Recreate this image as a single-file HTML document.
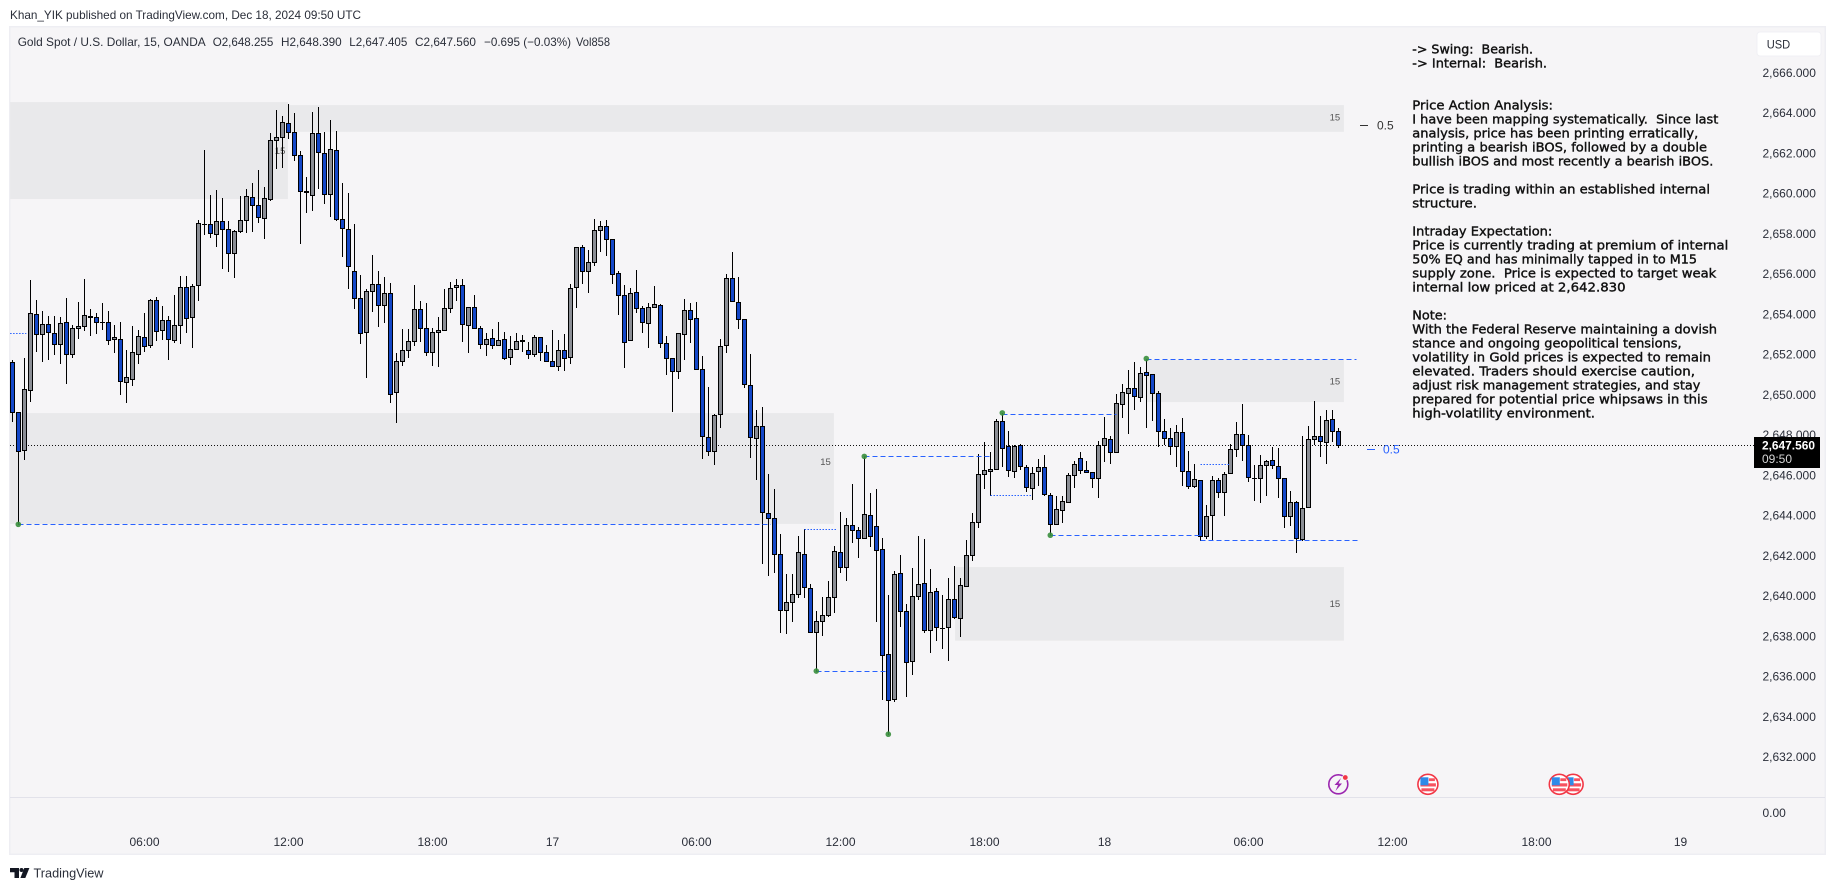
<!DOCTYPE html>
<html lang="en">
<head>
<meta charset="utf-8">
<title>Gold Spot / U.S. Dollar, 15, OANDA</title>
<style>
html,body{margin:0;padding:0;background:#fff;width:1835px;height:891px;overflow:hidden}
svg{display:block}
text{font-family:"Liberation Sans",sans-serif;white-space:pre}
.note{font-family:"DejaVu Sans","Liberation Sans",sans-serif;font-size:12px;fill:#111;stroke:#111;stroke-width:.38}
.ax{font-size:12px;fill:#2a2e39}
.lg{font-size:12px;fill:#2a2e39}
</style>
</head>
<body>
<svg id="chart" xmlns="http://www.w3.org/2000/svg" width="1835" height="891" viewBox="0 0 1835 891">
  <text x="10" y="19" class="lg" textLength="351" lengthAdjust="spacingAndGlyphs">Khan_YIK published on TradingView.com, Dec 18, 2024 09:50 UTC</text>
  <rect x="9.75" y="26.75" width="1815.5" height="827.5" fill="#f6f5f7" stroke="#eeeef3" stroke-width="1.5"/>
  <g id="zones"></g>
  <line x1="10" x2="1825" y1="797.5" y2="797.5" stroke="#e2e2ea" stroke-width="1"/>
  <g id="priceline"></g>
  <g id="candles"></g>
  <g id="levels"></g>
  <g id="yaxis"></g>
  <g id="xaxis"></g>

  <g>
    <text x="17.7" y="46" class="lg" textLength="188" lengthAdjust="spacingAndGlyphs">Gold Spot / U.S. Dollar, 15, OANDA</text>
    <text x="212.7" y="46" class="lg" textLength="60.6" lengthAdjust="spacingAndGlyphs">O2,648.255</text>
    <text x="281" y="46" class="lg" textLength="60.7" lengthAdjust="spacingAndGlyphs">H2,648.390</text>
    <text x="349.3" y="46" class="lg" textLength="58" lengthAdjust="spacingAndGlyphs">L2,647.405</text>
    <text x="415" y="46" class="lg" textLength="61" lengthAdjust="spacingAndGlyphs">C2,647.560</text>
    <text x="484" y="46" class="lg" textLength="87" lengthAdjust="spacingAndGlyphs">−0.695 (−0.03%)</text>
    <text x="576" y="46" class="lg" textLength="34" lengthAdjust="spacingAndGlyphs">Vol858</text>
  </g>

  <g>
    <text class="note" x="1412.3" y="53.5" textLength="120.7" lengthAdjust="spacingAndGlyphs">-&gt; Swing:  Bearish.</text>
    <text class="note" x="1412.3" y="67.5" textLength="134.7" lengthAdjust="spacingAndGlyphs">-&gt; Internal:  Bearish.</text>
    <text class="note" x="1412.3" y="109.5" textLength="140.7" lengthAdjust="spacingAndGlyphs">Price Action Analysis:</text>
    <text class="note" x="1412.3" y="123.5" textLength="306" lengthAdjust="spacingAndGlyphs">I have been mapping systematically.  Since last</text>
    <text class="note" x="1412.3" y="137.5" textLength="286" lengthAdjust="spacingAndGlyphs">analysis, price has been printing erratically,</text>
    <text class="note" x="1412.3" y="151.5" textLength="294.7" lengthAdjust="spacingAndGlyphs">printing a bearish iBOS, followed by a double</text>
    <text class="note" x="1412.3" y="165.5" textLength="301" lengthAdjust="spacingAndGlyphs">bullish iBOS and most recently a bearish iBOS.</text>
    <text class="note" x="1412.3" y="193.5" textLength="297.7" lengthAdjust="spacingAndGlyphs">Price is trading within an established internal</text>
    <text class="note" x="1412.3" y="207.5" textLength="64.7" lengthAdjust="spacingAndGlyphs">structure.</text>
    <text class="note" x="1412.3" y="235.5" textLength="140" lengthAdjust="spacingAndGlyphs">Intraday Expectation:</text>
    <text class="note" x="1412.3" y="249.5" textLength="316" lengthAdjust="spacingAndGlyphs">Price is currently trading at premium of internal</text>
    <text class="note" x="1412.3" y="263.5" textLength="284.7" lengthAdjust="spacingAndGlyphs">50% EQ and has minimally tapped in to M15</text>
    <text class="note" x="1412.3" y="277.5" textLength="304" lengthAdjust="spacingAndGlyphs">supply zone.  Price is expected to target weak</text>
    <text class="note" x="1412.3" y="291.5" textLength="213.3" lengthAdjust="spacingAndGlyphs">internal low priced at 2,642.830</text>
    <text class="note" x="1412.3" y="319.5" textLength="34.7" lengthAdjust="spacingAndGlyphs">Note:</text>
    <text class="note" x="1412.3" y="333.5" textLength="304.7" lengthAdjust="spacingAndGlyphs">With the Federal Reserve maintaining a dovish</text>
    <text class="note" x="1412.3" y="347.5" textLength="269.3" lengthAdjust="spacingAndGlyphs">stance and ongoing geopolitical tensions,</text>
    <text class="note" x="1412.3" y="361.5" textLength="298.7" lengthAdjust="spacingAndGlyphs">volatility in Gold prices is expected to remain</text>
    <text class="note" x="1412.3" y="375.5" textLength="282.7" lengthAdjust="spacingAndGlyphs">elevated. Traders should exercise caution,</text>
    <text class="note" x="1412.3" y="389.5" textLength="288" lengthAdjust="spacingAndGlyphs">adjust risk management strategies, and stay</text>
    <text class="note" x="1412.3" y="403.5" textLength="295.3" lengthAdjust="spacingAndGlyphs">prepared for potential price whipsaws in this</text>
    <text class="note" x="1412.3" y="417.5" textLength="182.7" lengthAdjust="spacingAndGlyphs">high-volatility environment.</text>
  </g>

  <g>
    <line x1="1360" x2="1368" y1="125.5" y2="125.5" stroke="#333"/>
    <text x="1377" y="129.5" font-size="12" fill="#333">0.5</text>
    <line x1="1367" x2="1375" y1="449.5" y2="449.5" stroke="#2962ff"/>
    <text x="1383" y="453.5" font-size="12" fill="#2962ff">0.5</text>
  </g>

  <g>
    <rect x="1757" y="32" width="64" height="24" rx="3" fill="#fff" stroke="#f0f0f4" stroke-width="1"/>
    <text x="1766.7" y="48.3" class="ax" textLength="23.5" lengthAdjust="spacingAndGlyphs">USD</text>
  </g>

  <g>
    <rect x="1754" y="437" width="66" height="31" fill="#000"/>
    <text x="1762" y="449.5" font-size="12" font-weight="bold" fill="#fff" textLength="53" lengthAdjust="spacingAndGlyphs">2,647.560</text>
    <text x="1762" y="463" font-size="12" fill="#d6d6d6" textLength="30" lengthAdjust="spacingAndGlyphs">09:50</text>
  </g>

  <g>
    <circle cx="1338.3" cy="784.3" r="9.5" fill="#f6f5f7" stroke="#9c27b0" stroke-width="1.6"/>
    <polygon points="1341,778 1334.5,785 1338,785 1335.5,791 1342,783.5 1338.5,783.5" fill="#9c27b0"/>
    <circle cx="1345.3" cy="777.5" r="2.8" fill="#f23645" stroke="#f6f5f7" stroke-width=".8"/>
  </g>
  <g id="events"></g>

  <g>
    <path d="M10 868h9v10h-4.5v-5.8H10z" fill="#131722"/>
    <circle cx="21.5" cy="870" r="2" fill="#131722"/>
    <path d="M24.3 868H29.4L25.3 878H20.4z" fill="#131722"/>
    <text x="33.5" y="877.5" font-size="13" fill="#2a2e39" textLength="70" lengthAdjust="spacingAndGlyphs">TradingView</text>
  </g>
</svg>

<script>
const opens=[2651.68,2649.20,2647.29,2650.29,2654.07,2653.08,2653.57,2653.12,2652.58,2653.67,
2652.08,2653.37,2653.47,2653.97,2653.92,2653.67,2653.67,2652.83,2652.83,2650.69,
2650.84,2652.08,2652.93,2652.53,2654.77,2653.27,2653.77,2652.78,2653.52,2655.41,
2653.92,2655.51,2658.54,2658.54,2658.05,2658.69,2658.29,2657.10,2658.19,2658.74,
2659.88,2659.49,2658.84,2659.78,2662.72,2662.87,2663.56,2663.11,2661.97,2660.18,
2659.98,2663.07,2662.07,2660.03,2662.22,2658.79,2658.29,2656.21,2654.87,2653.17,
2655.19,2655.56,2654.52,2655.11,2650.19,2651.73,2652.28,2652.73,2654.32,2653.37,
2652.18,2653.17,2653.27,2654.37,2655.41,2655.51,2653.52,2654.42,2653.37,2652.58,
2652.88,2652.53,2652.83,2651.93,2652.33,2652.78,2652.28,2652.08,2652.93,2652.18,
2651.73,2651.48,2652.28,2651.93,2655.41,2657.40,2656.21,2656.65,2658.24,2658.44,
2657.80,2656.11,2655.01,2652.78,2655.16,2654.37,2653.62,2654.42,2654.52,2652.63,
2651.88,2651.24,2653.08,2654.27,2653.87,2651.34,2647.96,2647.26,2649.10,2652.53,
2655.86,2654.67,2653.82,2650.54,2647.91,2648.50,2644.18,2643.93,2642.14,2639.36,
2639.76,2640.15,2642.14,2640.45,2638.27,2638.81,2639.11,2640.00,2642.24,2641.49,
2643.58,2643.33,2642.94,2644.08,2643.53,2642.39,2637.17,2634.94,2641.20,2639.31,
2636.83,2640.05,2640.70,2638.37,2640.30,2638.46,2638.51,2639.90,2638.96,2640.55,
2642.09,2643.73,2646.12,2646.27,2646.37,2648.75,2647.51,2646.27,2647.56,2646.46,
2645.42,2646.27,2646.46,2645.07,2643.63,2644.33,2644.73,2646.07,2646.91,2646.32,
2646.22,2645.92,2647.56,2647.86,2647.21,2649.60,2650.14,2650.39,2649.95,2651.19,
2651.09,2650.14,2648.25,2647.91,2647.51,2648.20,2646.27,2645.52,2645.82,2643.04,
2644.08,2645.82,2645.22,2646.17,2647.36,2648.10,2647.56,2645.92,2645.92,2646.56,
2646.81,2646.51,2645.92,2644.03,2644.73,2642.89,2644.48,2647.86,2648.01,2647.71,
2648.85,2648.25];
const closes=[2649.20,2647.24,2650.34,2654.12,2653.08,2653.57,2653.17,2652.58,2653.62,2652.08,
2653.37,2653.47,2654.02,2653.92,2653.67,2653.67,2652.78,2652.93,2650.74,2650.94,
2652.18,2652.98,2652.48,2654.77,2653.22,2653.77,2652.81,2653.52,2655.41,2653.87,
2655.46,2658.59,2658.54,2658.09,2658.69,2658.29,2657.10,2658.19,2658.74,2659.93,
2659.49,2658.89,2659.83,2662.72,2662.87,2663.61,2663.11,2661.97,2660.18,2660.13,
2663.07,2662.12,2660.03,2662.27,2658.79,2658.34,2656.45,2654.87,2653.12,2655.21,
2655.56,2654.52,2655.11,2650.09,2651.73,2652.28,2652.73,2654.32,2653.37,2652.18,
2653.17,2653.27,2654.37,2655.36,2655.51,2653.57,2654.42,2653.37,2652.58,2652.83,
2652.53,2652.78,2651.88,2652.33,2652.73,2652.73,2652.08,2652.93,2652.18,2651.73,
2651.48,2652.28,2651.88,2655.36,2657.40,2656.21,2656.65,2658.24,2658.44,2657.80,
2656.06,2655.01,2652.68,2655.11,2654.37,2653.67,2654.42,2654.57,2652.63,2651.88,
2651.24,2653.12,2654.27,2653.82,2651.34,2648.01,2647.26,2649.05,2652.48,2655.86,
2654.72,2653.82,2650.59,2647.96,2648.50,2644.23,2643.93,2642.14,2639.36,2639.76,
2640.15,2642.24,2640.50,2638.27,2638.81,2639.11,2640.00,2642.29,2641.49,2643.58,
2643.33,2642.94,2644.13,2643.04,2642.34,2637.12,2634.89,2641.15,2639.31,2636.78,
2640.05,2640.65,2638.37,2640.25,2638.51,2638.46,2639.90,2639.01,2640.60,2642.09,
2643.73,2646.12,2646.32,2646.37,2648.75,2647.41,2646.32,2647.51,2646.51,2645.47,
2646.17,2646.46,2645.12,2643.63,2644.38,2644.78,2646.07,2646.61,2646.32,2646.22,
2645.92,2647.56,2647.91,2647.21,2649.65,2650.19,2650.39,2650.00,2651.14,2651.04,
2650.14,2648.25,2647.91,2647.51,2648.20,2646.27,2645.52,2645.87,2643.04,2644.03,
2645.82,2645.22,2646.12,2647.36,2648.10,2647.56,2645.97,2645.92,2646.56,2646.76,
2646.56,2645.92,2644.03,2644.73,2642.94,2644.43,2647.86,2648.01,2647.76,2648.80,
2648.25,2647.56];
const highs=[2651.75,2649.21,2651.85,2655.77,2654.78,2654.23,2653.94,2653.94,2653.89,2654.88,
2653.49,2654.68,2655.80,2654.33,2654.13,2654.63,2654.23,2653.49,2653.64,2652.28,
2653.44,2653.29,2654.13,2654.83,2654.93,2654.48,2653.97,2655.03,2655.97,2655.97,
2655.53,2658.71,2662.19,2659.98,2660.20,2659.85,2658.66,2658.26,2659.95,2660.28,
2660.59,2661.23,2660.35,2663.07,2664.21,2663.91,2664.51,2664.06,2662.17,2660.88,
2664.11,2664.36,2663.11,2663.71,2663.16,2660.58,2660.08,2658.54,2656.01,2655.31,
2656.99,2656.21,2655.91,2655.61,2652.13,2653.32,2653.32,2655.48,2654.73,2654.63,
2653.37,2653.89,2655.28,2655.66,2655.82,2655.82,2654.42,2655.01,2653.47,2653.12,
2653.32,2653.67,2653.17,2652.98,2653.12,2653.04,2652.68,2653.03,2652.93,2652.53,
2653.27,2652.78,2653.08,2655.56,2657.40,2657.50,2657.25,2658.79,2658.69,2658.74,
2657.80,2656.21,2655.51,2655.36,2656.27,2654.47,2654.62,2655.46,2654.57,2652.98,
2651.88,2653.12,2654.81,2654.62,2654.67,2651.98,2650.44,2649.10,2652.83,2656.06,
2657.15,2655.91,2653.82,2652.08,2649.30,2649.45,2646.12,2645.37,2643.14,2641.15,
2641.15,2643.04,2643.39,2640.65,2639.31,2640.00,2640.80,2642.54,2644.23,2643.93,
2645.62,2643.48,2647.01,2645.17,2645.37,2642.94,2640.10,2641.30,2642.09,2639.66,
2641.45,2643.04,2642.89,2641.40,2640.45,2640.10,2640.95,2641.55,2640.95,2642.84,
2644.18,2647.11,2647.71,2647.21,2648.82,2649.15,2648.25,2647.56,2647.59,2646.56,
2646.46,2646.86,2647.06,2645.17,2645.02,2645.02,2646.17,2646.76,2647.21,2646.76,
2646.22,2647.76,2648.95,2648.01,2650.09,2650.59,2651.29,2651.68,2651.44,2651.83,
2651.10,2650.24,2648.85,2648.40,2648.55,2648.90,2647.26,2646.61,2645.82,2644.58,
2646.02,2645.92,2646.22,2647.61,2648.70,2649.60,2648.06,2646.56,2647.06,2646.78,
2647.46,2647.41,2645.92,2645.27,2644.78,2648.01,2648.50,2649.75,2649.00,2649.30,
2649.30,2648.40];
const lows=[2648.73,2643.63,2646.83,2649.73,2652.21,2651.71,2651.80,2652.05,2651.62,2650.62,
2651.91,2652.86,2653.26,2653.01,2653.11,2653.31,2652.56,2652.16,2650.07,2649.68,
2650.51,2651.62,2652.23,2652.41,2652.76,2652.81,2651.82,2652.66,2652.61,2653.16,
2652.41,2654.75,2658.06,2657.88,2657.43,2656.33,2656.19,2655.89,2658.12,2658.14,
2658.17,2658.62,2657.83,2659.72,2661.33,2661.36,2662.82,2661.73,2657.58,2659.12,
2659.22,2660.33,2659.57,2658.95,2658.72,2656.94,2655.34,2654.35,2652.61,2650.92,
2654.23,2653.45,2653.65,2649.68,2648.68,2651.51,2651.90,2652.53,2652.71,2652.01,
2651.51,2651.46,2653.27,2654.17,2654.75,2652.71,2652.19,2653.37,2652.36,2652.01,
2652.36,2652.53,2651.80,2651.56,2652.33,2652.21,2651.85,2651.96,2651.76,2651.73,
2651.48,2651.27,2651.27,2651.62,2654.40,2655.59,2655.14,2656.48,2657.18,2656.98,
2655.59,2654.05,2651.42,2652.78,2654.18,2653.16,2652.41,2654.42,2652.41,2651.07,
2649.23,2650.87,2651.82,2652.66,2651.34,2646.89,2647.04,2646.59,2648.43,2652.16,
2654.72,2653.35,2650.44,2646.94,2645.88,2641.67,2641.08,2641.23,2638.25,2638.20,
2638.79,2639.98,2639.98,2638.27,2636.34,2638.13,2639.06,2639.27,2641.23,2640.83,
2642.72,2641.97,2642.94,2642.52,2638.79,2634.94,2633.20,2634.82,2638.54,2635.07,
2636.16,2639.90,2638.27,2637.27,2637.87,2637.47,2636.87,2638.96,2638.07,2640.55,
2641.84,2643.48,2645.42,2645.07,2646.37,2646.51,2646.00,2645.97,2646.37,2645.27,
2644.88,2645.57,2645.07,2643.09,2643.63,2643.71,2644.73,2645.45,2646.17,2646.22,
2645.47,2644.97,2646.74,2646.64,2647.21,2648.93,2648.14,2649.33,2649.73,2648.43,
2648.80,2647.49,2647.61,2647.11,2646.49,2645.57,2645.42,2645.47,2642.84,2642.94,
2642.85,2644.97,2644.06,2646.17,2647.01,2646.81,2645.77,2644.80,2644.70,2645.05,
2646.41,2644.97,2643.46,2643.56,2642.24,2642.84,2644.48,2647.61,2646.99,2646.66,
2647.76,2647.46];

const priceTicks=[2666,2664,2662,2660,2658,2656,2654,2652,2650,2648,2646,2644,2642,2640,2638,2636,2634,2632];
const timeTickBars=[22,46,70,90,114,138,162,182,206,230,254,278];
const timeTickLabels=["06:00","12:00","18:00","17","06:00","12:00","18:00","18","06:00","12:00","18:00","19"];
const lastPrice=2647.56;
const volumeTick="0.00";

const zoneStartBars=[-0.4,45.9,-0.4,157.1,188.9];
const zoneEndBars=[45.9,221.9,136.9,221.9,221.9];
const zoneTops=[2664.62,2664.47,2649.16,2641.51,2651.80];
const zoneBottoms=[2659.80,2663.14,2643.65,2637.85,2649.71];
const zoneLabelBars=[44.6,220.4,135.5,220.4,220.4];
const zoneLabelPrices=[2662.2,2663.85,2646.75,2639.68,2650.75];
const zoneLabels=["15","15","15","15","15"];

const dashedStartBars=[1,142,134,165,173,198,189];
const dashedEndBars=[126.4,163,145.8,184,198,224.2,224];
const dashedPrices=[2643.63,2647.01,2636.34,2649.10,2643.09,2642.84,2651.83];
const dottedStartBars=[-0.4,132,163,198];
const dottedEndBars=[2.3,137.5,170,203];
const dottedPrices=[2653.13,2643.39,2645.07,2646.61];
const pivotBars=[1,134,142,146,165,173,189];
const pivotPrices=[2643.63,2636.34,2647.01,2633.20,2649.17,2643.09,2651.87];
const eventBars=[260.1,257.8,235.9];

const NS='http://www.w3.org/2000/svg';
const x=b=>12.5+6*b;
const y=p=>445.3+(lastPrice-p)*20.12;
const snap=v=>Math.round(v-0.5)+0.5;
function mk(parent,tag,attrs,text){
  const el=document.createElementNS(NS,tag);
  for(const k in attrs){el.setAttribute(k,attrs[k]);}
  if(text!==undefined){el.textContent=text;}
  parent.appendChild(el);
  return el;
}
const fmtPrice=p=>{const s=p.toFixed(3);return s[0]+','+s.slice(1);};

const zonesG=document.getElementById('zones');
zoneTops.forEach((t,i)=>{
  const r=mk(zonesG,'rect',{x:x(zoneStartBars[i]),y:y(t),width:x(zoneEndBars[i])-x(zoneStartBars[i]),height:y(zoneBottoms[i])-y(t),fill:'#e9e9eb'});
  
  
  const l=mk(zonesG,'text',{x:x(zoneLabelBars[i]),y:y(zoneLabelPrices[i])+3.2,'font-size':'9.5','text-anchor':'middle',fill:'#555'},zoneLabels[i]);
  
  
});

const plG=document.getElementById('priceline');
const pl=mk(plG,'line',{x1:10,x2:1754,y1:snap(y(lastPrice)),y2:snap(y(lastPrice)),stroke:'#111','stroke-width':1,'stroke-dasharray':'1 2'});



const candlesG=document.getElementById('candles');
opens.forEach((o,i)=>{
  const c=closes[i];
  const cx=x(i);
  const up=c>=o;
  const top=snap(y(Math.max(o,c)));
  const bot=snap(y(Math.min(o,c)));
  const g=mk(candlesG,'g',{});
  
  
  const w=mk(g,'line',{x1:cx,x2:cx,y1:snap(y(highs[i]))-0.5,y2:snap(y(lows[i]))+0.5,stroke:'#000','stroke-width':1});
  
  
  if(bot===top){
    const d=mk(g,'line',{x1:cx-2.5,x2:cx+2.5,y1:top,y2:top,stroke:'#000','stroke-width':1});
    
    
  }else{
    const b=mk(g,'rect',{x:cx-2,y:top,width:4,height:bot-top,fill:up?'#8b8e95':'#1347c8',stroke:'#000','stroke-width':1});
    
    
  }
});

const lvG=document.getElementById('levels');
dashedPrices.forEach((p,i)=>{
  const l=mk(lvG,'line',{x1:x(dashedStartBars[i]),x2:x(dashedEndBars[i]),y1:snap(y(p)),y2:snap(y(p)),stroke:'#2962ff','stroke-width':1,'stroke-dasharray':'5 3'});
  
  
});
dottedPrices.forEach((p,i)=>{
  const l=mk(lvG,'line',{x1:x(dottedStartBars[i]),x2:x(dottedEndBars[i]),y1:snap(y(p)),y2:snap(y(p)),stroke:'#2962ff','stroke-width':1,'stroke-dasharray':'1.5 1.5'});
  
  
});
pivotBars.forEach((b,i)=>{
  const d=mk(lvG,'circle',{cx:x(b)-0.2,cy:y(pivotPrices[i]),r:2.8,fill:'#388e3c','fill-opacity':.9});
  
  
});

const yG=document.getElementById('yaxis');
priceTicks.forEach(p=>{
  const t=mk(yG,'text',{x:1762.5,y:y(p)+2.7,class:'ax'},fmtPrice(p));
  
  
});
const vt=mk(yG,'text',{x:1762.5,y:817,class:'ax'},volumeTick);



const xG=document.getElementById('xaxis');
timeTickBars.forEach((b,i)=>{
  const lab=timeTickLabels[i];
  const t=mk(xG,'text',{x:x(b),y:846,class:'ax','text-anchor':'middle'},lab);
  
  
});

const evG=document.getElementById('events');
eventBars.forEach(b=>{
  const cx=x(b), cy=784.3;
  const g=mk(evG,'g',{});
  
  
  const ring=mk(g,'circle',{cx:cx,cy:cy,r:10,fill:'#fff',stroke:'#f23645','stroke-width':1.6});
  
  
  const s1=mk(g,'rect',{x:cx-7.5,y:cy-1,width:15.5,height:3.2,fill:'#f7525f'});
  
  
  const s2=mk(g,'rect',{x:cx-6.5,y:cy+4,width:13,height:3,fill:'#f7525f'});
  
  
  const s3=mk(g,'rect',{x:cx+1,y:cy-6,width:6,height:2.8,fill:'#f7525f'});
  
  
  const cn=mk(g,'rect',{x:cx-7.5,y:cy-7,width:8,height:8,fill:'#2f8ae8'});
  
  
});
</script>
</body>
</html>
